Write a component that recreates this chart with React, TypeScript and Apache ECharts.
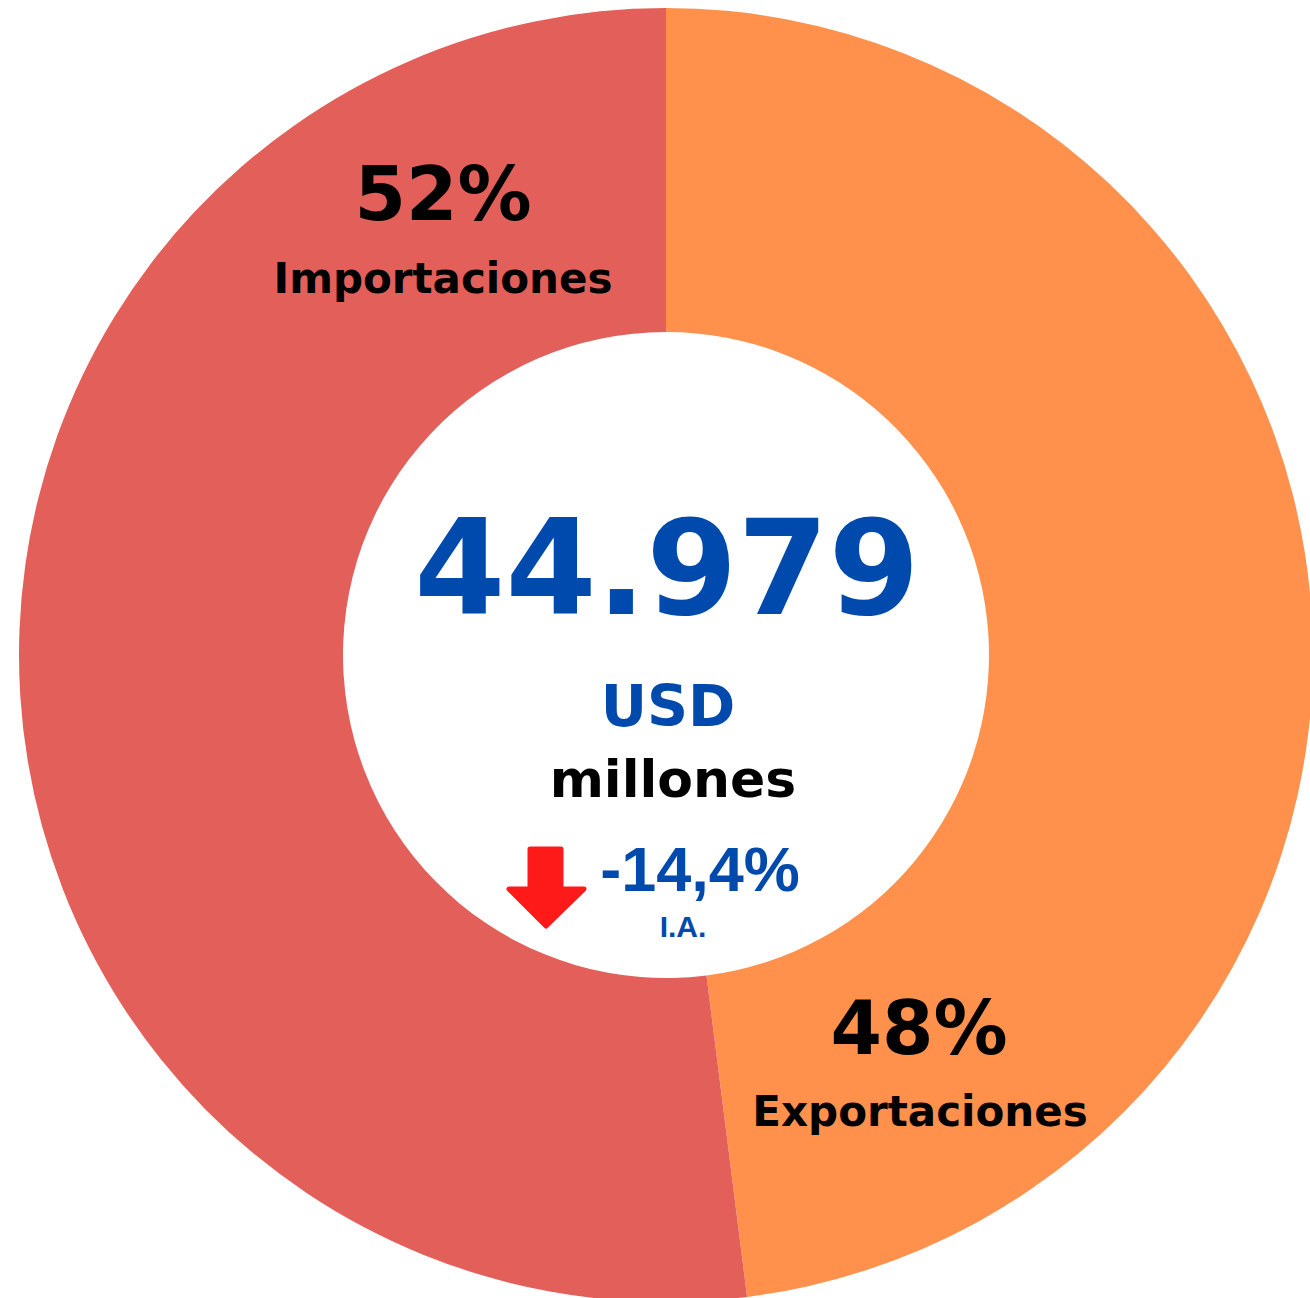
import React, { useEffect, useRef } from "react";
import * as echarts from "echarts";

const categories = ["Exportaciones", "Importaciones"];
const shares = [48, 52];
const colors = ["#FF914D", "#E35F59"];
const totalValue = "44.979";
const unitTop = "USD";
const unitBottom = "millones";
const changeText = "-14,4%";
const changeNote = "I.A.";

export default function App() {
  const ref = useRef<HTMLDivElement>(null);
  useEffect(() => {
    if (!ref.current) return;
    const chart = echarts.init(ref.current, null, { renderer: "svg" });
    const heavy = "'DejaVu Sans', sans-serif";
    const arial = "'Liberation Sans', Arial, sans-serif";
    const txt = (x: number, y: number, text: string, font: string, fill: string) => ({
      type: "text",
      x,
      y,
      z: 100,
      style: { text, font, fill, align: "center", verticalAlign: "middle" },
    });
    chart.setOption({
      animation: false,
      backgroundColor: "#ffffff",
      series: [
        {
          type: "pie",
          center: [666, 655],
          radius: [323, 647],
          startAngle: 90,
          clockwise: true,
          label: { show: false },
          labelLine: { show: false },
          silent: true,
          data: categories.map((c, i) => ({
            name: c,
            value: shares[i],
            itemStyle: { color: colors[i] },
          })),
        },
      ],
      graphic: [
        txt(443, 194, shares[1] + "%", `bold 74px ${heavy}`, "#000"),
        txt(443, 278, categories[1], `bold 42px ${heavy}`, "#000"),
        txt(919, 1028, shares[0] + "%", `bold 74px ${heavy}`, "#000"),
        txt(920, 1111, categories[0], `bold 42px ${heavy}`, "#000"),
        txt(667, 568, totalValue, `bold 131px ${heavy}`, "#004AAD"),
        txt(668, 706, unitTop, `bold 57px ${heavy}`, "#004AAD"),
        txt(673, 779, unitBottom, `bold 52px ${heavy}`, "#000"),
        txt(700, 869, changeText, `bold 63px ${arial}`, "#004AAD"),
        txt(683, 926, changeNote, `bold 30px ${arial}`, "#004AAD"),
        {
          type: "polygon",
          z: 100,
          shape: {
            points: [
              [530, 849], [561, 849], [561, 889], [584, 889], [546, 926], [509, 889], [530, 889],
            ],
          },
          style: { fill: "#FF1A1A", stroke: "#FF1A1A", lineWidth: 5, lineJoin: "round" },
        },
      ],
    });
    return () => chart.dispose();
  }, []);
  return (
    <div
      ref={ref}
      style={{ position: "absolute", left: 0, top: 0, width: 1310, height: 1298 }}
    />
  );
}
